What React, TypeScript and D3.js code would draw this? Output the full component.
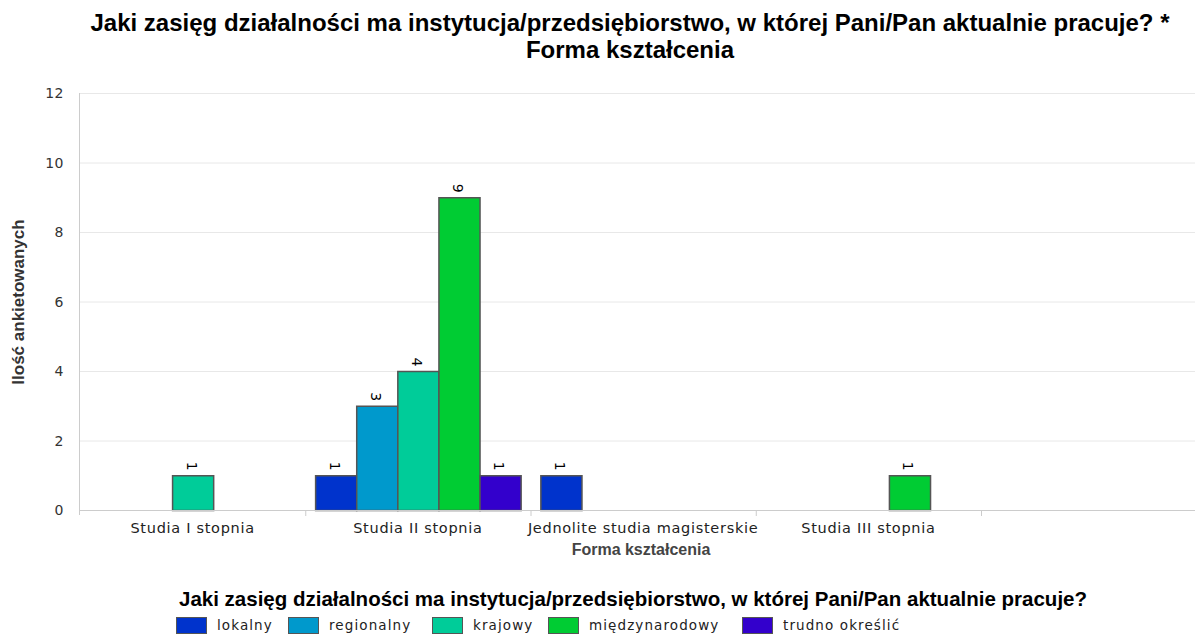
import React, { useEffect, useRef } from "react";
import * as d3 from "d3";

const categories = [
  "Studia I stopnia",
  "Studia II stopnia",
  "Jednolite studia magisterskie",
  "Studia III stopnia",
];
const seriesNames = ["lokalny", "regionalny", "krajowy", "międzynarodowy", "trudno określić"];
const lokalny = [0, 1, 1, 0];
const regionalny = [0, 3, 0, 0];
const krajowy = [1, 4, 0, 0];
const miedzynarodowy = [0, 9, 0, 1];
const trudnoOkreslic = [0, 1, 0, 0];
const yTicks = [0, 2, 4, 6, 8, 10, 12];
const colors = ["#0033cc", "#0099cc", "#00cc99", "#00cc33", "#3300cc"];

const titleLines = [
  "Jaki zasięg działalności ma instytucja/przedsiębiorstwo, w której Pani/Pan aktualnie pracuje? *",
  "Forma kształcenia",
];
const legendTitle = "Jaki zasięg działalności ma instytucja/przedsiębiorstwo, w której Pani/Pan aktualnie pracuje?";

const App = () => {
  const svgRef = useRef<SVGSVGElement>(null);

  useEffect(() => {
    const left = 80;
    const right = 1195;
    const top = 93;
    const bottom = 510;
    const values = [lokalny, regionalny, krajowy, miedzynarodowy, trudnoOkreslic];
    const sans = "'DejaVu Sans', Verdana, sans-serif";
    const arial = "'Liberation Sans', Arial, sans-serif";

    const x = d3.scaleBand().domain(categories).range([left, 981]).padding(0);
    const xs = d3
      .scaleBand()
      .domain(seriesNames)
      .range([0, x.bandwidth()])
      .paddingInner(0)
      .paddingOuter(0.24);
    const y = d3.scaleLinear().domain([0, 12]).range([bottom, top]);

    const svg = d3.select(svgRef.current);
    svg.selectAll("*").remove();

    // title
    svg
      .append("g")
      .selectAll("text")
      .data(titleLines)
      .enter()
      .append("text")
      .attr("x", 630)
      .attr("y", (d, i) => 31 + i * 27)
      .attr("text-anchor", "middle")
      .style("font-family", arial)
      .style("font-weight", "bold")
      .style("font-size", "24px")
      .attr("fill", "#000")
      .text((d) => d);

    // grid
    svg
      .append("g")
      .selectAll("line")
      .data(yTicks.filter((t) => t > 0))
      .enter()
      .append("line")
      .attr("x1", left)
      .attr("x2", right)
      .attr("y1", (d) => y(d) + 0.5)
      .attr("y2", (d) => y(d) + 0.5)
      .attr("stroke", "#e8e8e8");

    // y axis
    svg
      .append("line")
      .attr("x1", left - 0.5)
      .attr("x2", left - 0.5)
      .attr("y1", top)
      .attr("y2", bottom + 5)
      .attr("stroke", "#cccccc");
    svg
      .append("g")
      .selectAll("text")
      .data(yTicks)
      .enter()
      .append("text")
      .attr("x", 64)
      .attr("y", (d) => y(d) + 5)
      .attr("text-anchor", "end")
      .style("font-family", sans)
      .style("font-size", "14px")
      .style("letter-spacing", "0.5px")
      .attr("fill", "#333")
      .text((d) => d);

    svg
      .append("text")
      .attr("transform", `translate(24, 302) rotate(-90)`)
      .attr("text-anchor", "middle")
      .style("font-family", "'Liberation Sans Narrow', 'Liberation Sans', sans-serif")
      .style("font-weight", "bold")
      .style("font-size", "17px")
      .attr("fill", "#333")
      .text("Ilość ankietowanych");

    // bars
    const groups = svg
      .append("g")
      .selectAll("g")
      .data(categories)
      .enter()
      .append("g")
      .attr("transform", (d) => `translate(${x(d)}, 0)`);

    const cells = (d: string, ci: number) =>
      seriesNames.map((s, si) => ({ s, si, v: values[si][ci] })).filter((e) => e.v > 0);

    groups
      .selectAll("rect")
      .data(cells)
      .enter()
      .append("rect")
      .attr("x", (d) => (xs(d.s) as number) + 0.5)
      .attr("y", (d) => y(d.v) + 0.5)
      .attr("width", xs.bandwidth())
      .attr("height", (d) => bottom - y(d.v))
      .attr("fill", (d) => colors[d.si])
      .attr("stroke", "#555")
      .attr("stroke-width", 1.5);

    groups
      .selectAll("text")
      .data(cells)
      .enter()
      .append("text")
      .attr(
        "transform",
        (d) => `translate(${(xs(d.s) as number) + xs.bandwidth() / 2 - 1}, ${y(d.v) - 9}) rotate(90)`
      )
      .attr("text-anchor", "middle")
      .attr("dy", "0.36em")
      .style("font-family", sans)
      .style("font-size", "14px")
      .attr("fill", "#000")
      .text((d) => d.v);

    // x axis
    svg
      .append("line")
      .attr("x1", left)
      .attr("x2", right)
      .attr("y1", bottom + 0.5)
      .attr("y2", bottom + 0.5)
      .attr("stroke", "#cccccc");
    svg
      .append("g")
      .selectAll("line")
      .data(categories)
      .enter()
      .append("line")
      .attr("x1", (d) => (x(d) as number) + x.bandwidth() + 0.5)
      .attr("x2", (d) => (x(d) as number) + x.bandwidth() + 0.5)
      .attr("y1", bottom)
      .attr("y2", bottom + 6)
      .attr("stroke", "#cccccc");
    svg
      .append("g")
      .selectAll("text")
      .data(categories)
      .enter()
      .append("text")
      .attr("x", (d) => (x(d) as number) + x.bandwidth() / 2)
      .attr("y", 533)
      .attr("text-anchor", "middle")
      .style("font-family", sans)
      .style("font-size", "14.5px")
      .style("letter-spacing", "0.7px")
      .attr("fill", "#222")
      .text((d) => d);

    svg
      .append("text")
      .attr("x", 641)
      .attr("y", 555)
      .attr("text-anchor", "middle")
      .style("font-family", arial)
      .style("font-weight", "bold")
      .style("font-size", "16px")
      .attr("fill", "#444")
      .text("Forma kształcenia");

    // legend
    svg
      .append("text")
      .attr("x", 633)
      .attr("y", 606)
      .attr("text-anchor", "middle")
      .style("font-family", arial)
      .style("font-weight", "bold")
      .style("font-size", "20.5px")
      .attr("fill", "#000")
      .text(legendTitle);

    const legendX = [176, 288, 432, 548, 742];
    const items = svg
      .append("g")
      .selectAll("g")
      .data(seriesNames)
      .enter()
      .append("g")
      .attr("transform", (d, i) => `translate(${legendX[i]}, 617)`);
    items
      .append("rect")
      .attr("x", 0.5)
      .attr("y", 0.5)
      .attr("width", 30)
      .attr("height", 16)
      .attr("fill", (d, i) => colors[i])
      .attr("stroke", "#555");
    items
      .append("text")
      .attr("x", 41)
      .attr("y", 13)
      .style("font-family", sans)
      .style("font-size", "13.5px")
      .style("letter-spacing", "1.1px")
      .attr("fill", "#222")
      .text((d) => d);
  }, []);

  return (
    <div>
      <style>{"body{margin:0;background:#fff;}"}</style>
      <svg ref={svgRef} width="1195" height="636" style={{ display: "block" }}></svg>
    </div>
  );
};

export default App;
